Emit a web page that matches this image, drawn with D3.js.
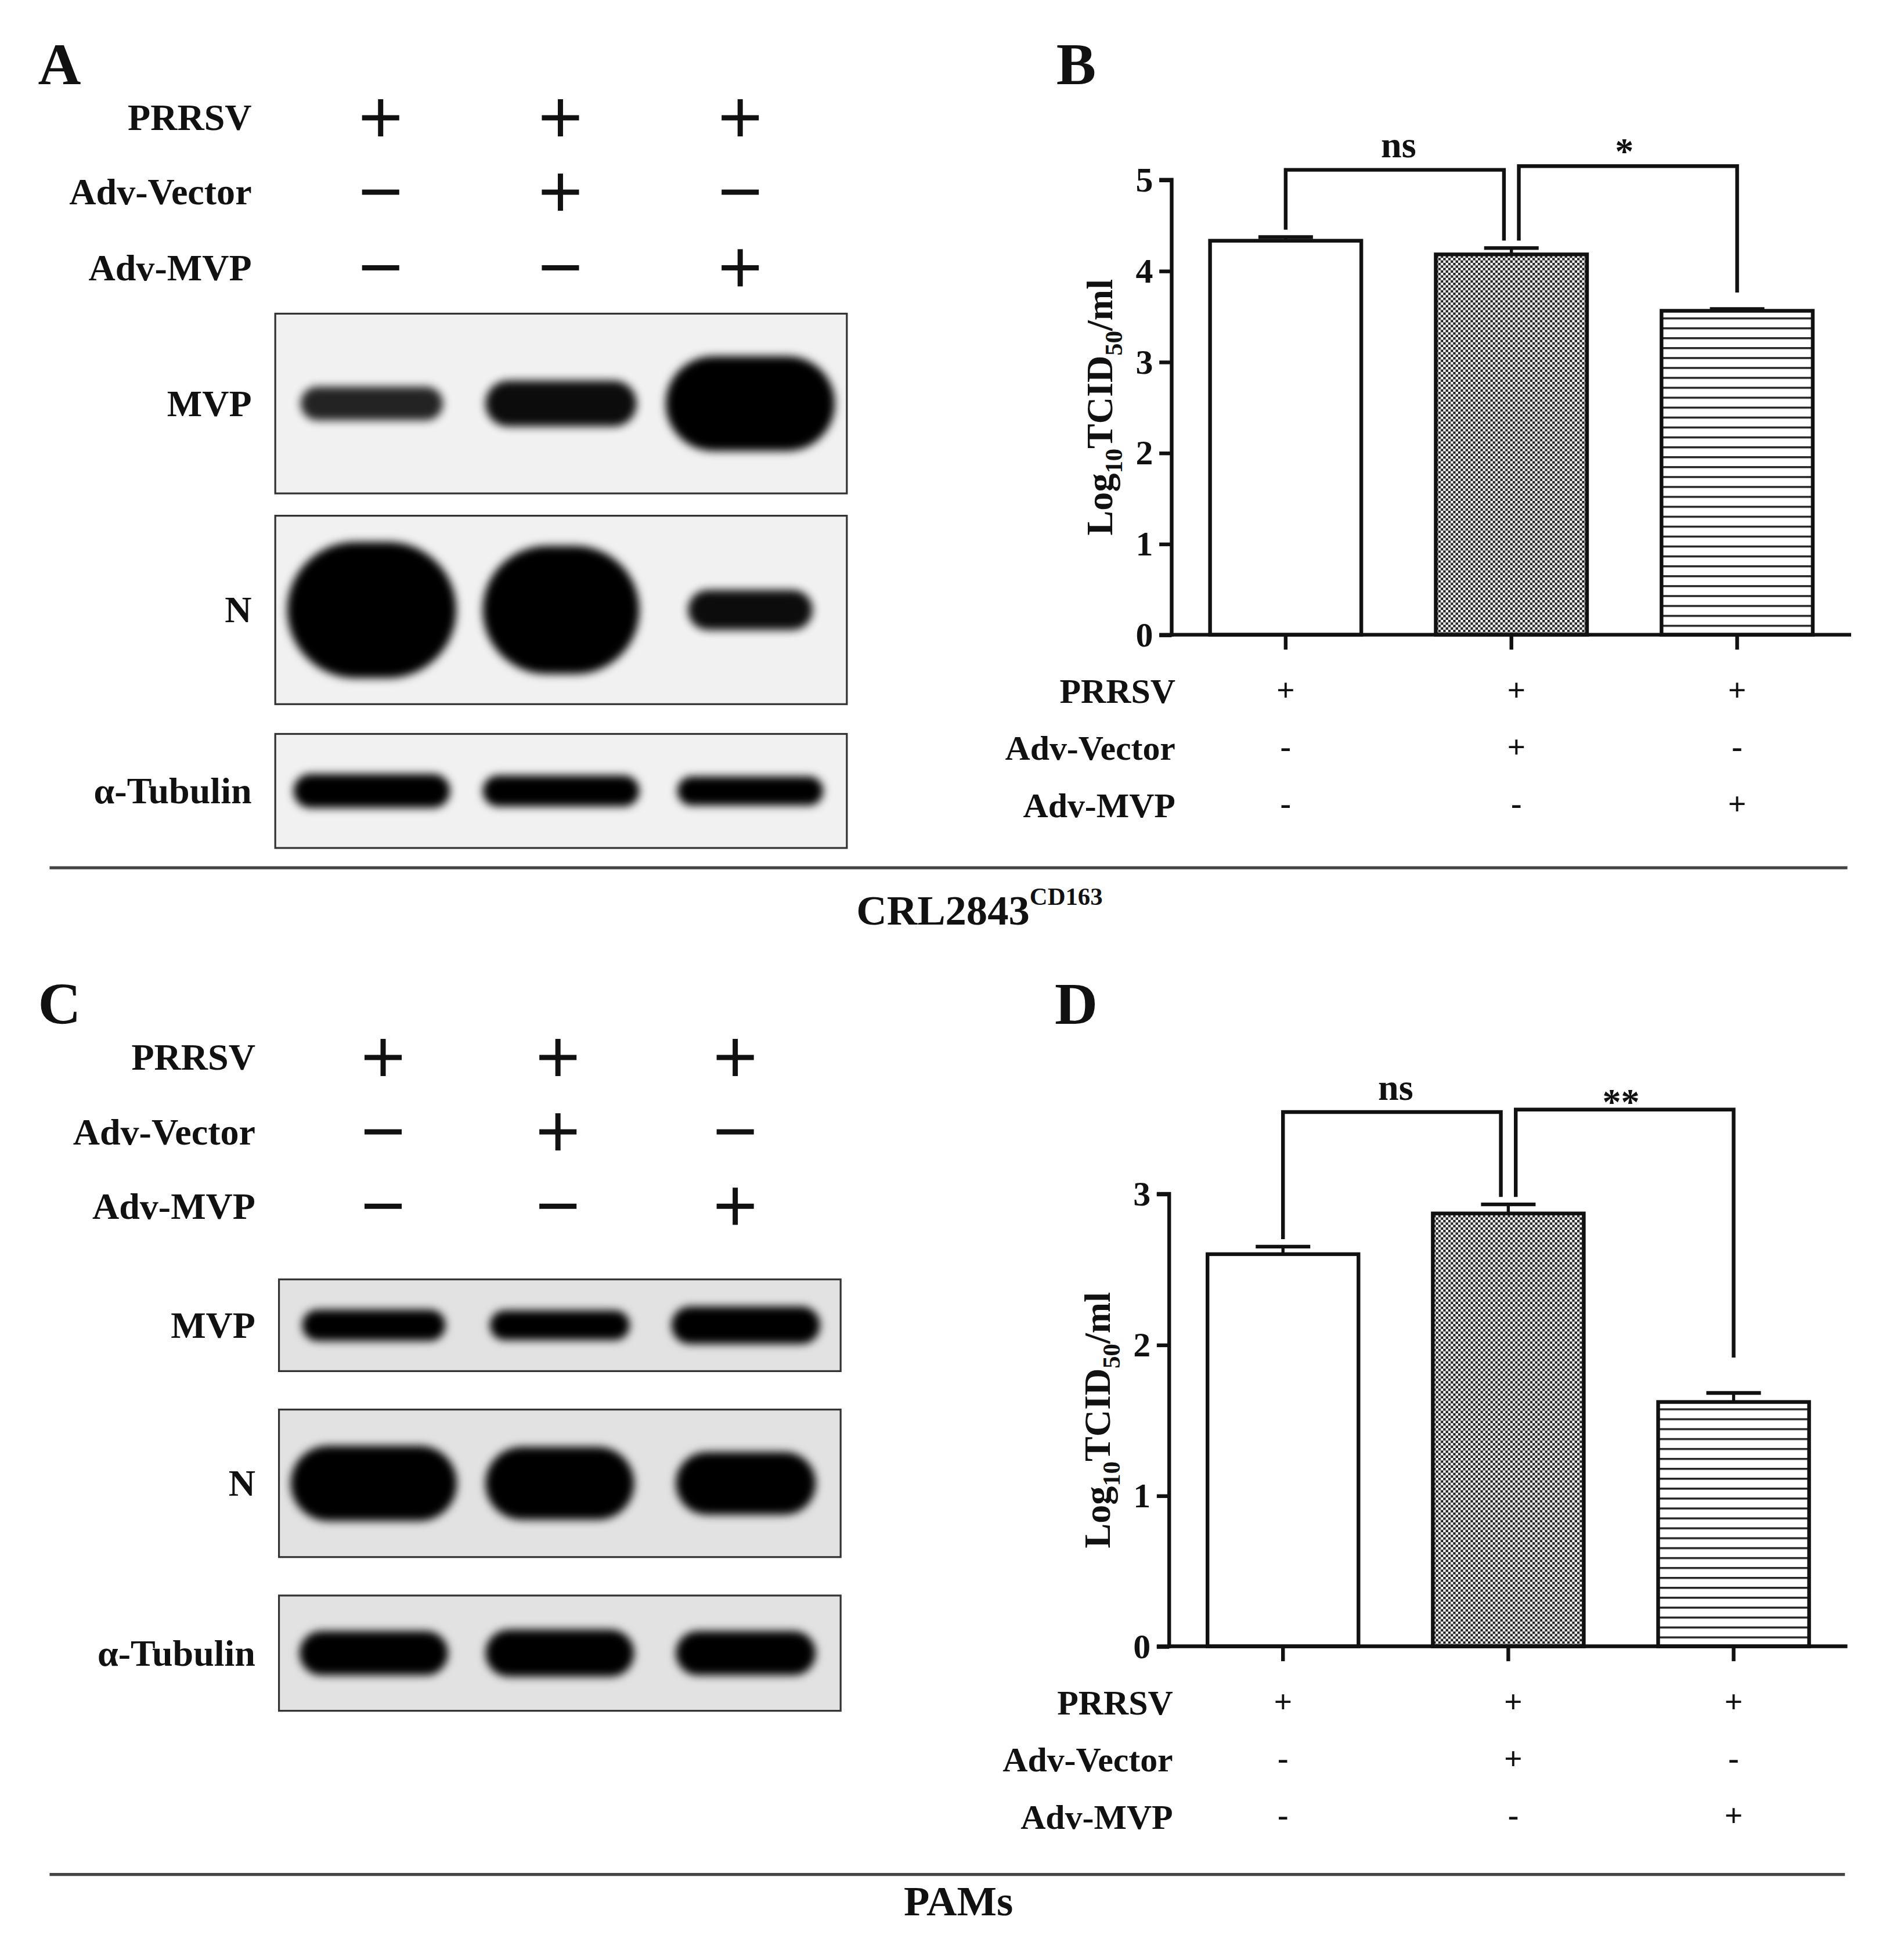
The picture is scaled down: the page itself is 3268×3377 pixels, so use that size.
<!DOCTYPE html>
<html><head><meta charset="utf-8">
<script src="https://cdn.jsdelivr.net/npm/d3@7"></script>
<style>body{margin:0;background:#fff}svg{display:block}text{font-family:"Liberation Serif","DejaVu Serif",serif;font-weight:bold;fill:#111}</style>
</head><body>
<script>
const conditions = ["PRRSV","Adv-Vector","Adv-MVP"];
const signs = [["+","+","+"],["-","+","-"],["-","-","+"]];
const groups = ["Ctrl","Adv-Vector","Adv-MVP"];
const valuesB = [4.33, 4.18, 3.56];
const errB = [0.04, 0.07, 0.02];
const valuesD = [2.60, 2.87, 1.62];
const errD = [0.05, 0.06, 0.06];
const ticksB = [0,1,2,3,4,5];
const ticksD = [0,1,2,3];
const sigB = ["ns","*"];
const sigD = ["ns","**"];
// blot band intensities (relative width, thickness, darkness) per lane
const blotA = {MVP:[[0.8,0.22,0.85],[0.85,0.3,0.95],[0.95,0.62,1]], N:[[0.95,0.85,1],[0.88,0.8,1],[0.7,0.25,0.95]], "α-Tubulin":[[0.88,0.35,1],[0.88,0.32,1],[0.82,0.3,1]]};
const blotC = {MVP:[[0.82,0.4,1],[0.8,0.38,1],[0.85,0.48,1]], N:[[0.95,0.6,1],[0.85,0.58,1],[0.8,0.5,1]], "α-Tubulin":[[0.85,0.45,1],[0.85,0.48,1],[0.8,0.45,1]]};

const W=1530,H=1581;
const svg=d3.select("body").append("svg").attr("width",3268).attr("height",3377).attr("viewBox",`0 0 ${W} ${H}`);
const defs=svg.append("defs");
defs.append("filter").attr("id","blur").attr("x","-30%").attr("y","-80%").attr("width","160%").attr("height","260%")
  .append("feGaussianBlur").attr("stdDeviation",3.5);
const chk=defs.append("pattern").attr("id","chk").attr("patternUnits","userSpaceOnUse").attr("width",4).attr("height",4);
chk.append("rect").attr("width",4).attr("height",4).attr("fill","#fff");
chk.append("rect").attr("width",2).attr("height",2).attr("fill","#222");
chk.append("rect").attr("x",2).attr("y",2).attr("width",2).attr("height",2).attr("fill","#222");
const hl=defs.append("pattern").attr("id","hl").attr("patternUnits","userSpaceOnUse").attr("width",8).attr("height",8);
hl.append("rect").attr("width",8).attr("height",8).attr("fill","#fff");
hl.append("rect").attr("y",0).attr("width",8).attr("height",1.6).attr("fill","#222");

function letter(t,x,y){svg.append("text").attr("x",x).attr("y",y).attr("font-size",48).attr("text-anchor","middle").text(t);}

function sym(g,s,x,y,size){
  const h=size/2,w=size*0.14;
  g.append("rect").attr("x",x-h).attr("y",y-w/2).attr("width",size).attr("height",w).attr("fill","#111");
  if(s==="+") g.append("rect").attr("x",x-w/2).attr("y",y-h).attr("width",w).attr("height",size).attr("fill","#111");
}

function blotPanel(L,lx,lanesX,rowsY,boxX,boxes,data,bg){
  const g=svg.append("g");
  conditions.forEach((c,i)=>{
    g.append("text").attr("x",lx).attr("y",rowsY[i]+10).attr("text-anchor","end").attr("font-size",30).text(c);
    signs[i].forEach((s,j)=>sym(g,s,lanesX[j],rowsY[i],30));
  });
  const x=d3.scaleBand().domain(groups).range(boxX).paddingInner(0.06).paddingOuter(0.04);
  Object.keys(data).forEach((k,bi)=>{
    const [y0,y1]=boxes[bi];
    g.append("rect").attr("x",boxX[0]).attr("y",y0).attr("width",boxX[1]-boxX[0]).attr("height",y1-y0).attr("fill",bg).attr("stroke","#333").attr("stroke-width",1.5);
    g.append("text").attr("x",lx).attr("y",(y0+y1)/2+10).attr("text-anchor","end").attr("font-size",30).text(k);
    const cy=(y0+y1)/2, bh=(y1-y0)*0.85;
    data[k].forEach((b,j)=>{
      const cx=x(groups[j])+x.bandwidth()/2, w=x.bandwidth()*b[0], h=bh*b[1];
      g.append("rect").attr("x",cx-w/2).attr("y",cy-h/2).attr("width",w).attr("height",h).attr("rx",Math.min(w/2,h/2)).attr("ry",h/2)
        .attr("fill","#000").attr("opacity",b[2]).attr("filter","url(#blur)");
    });
  });
}

letter("A",48,68);
blotPanel("A",203,[307,452,597],[95,155,216],[222,683],[[253,398],[416,568],[592,684]],blotA,"#f1f1f1");
letter("C",48,826);
blotPanel("C",206,[309,450,593],[853,913,973],[225,678],[[1032,1106],[1137,1256],[1287,1380]],blotC,"#e2e2e2");

function barPanel(vals,errs,ticks,sig,o){
  const g=svg.append("g");
  const y=d3.scaleLinear().domain([0,ticks[ticks.length-1]]).range([o.y0,o.yTop]);
  const x=d3.scaleBand().domain(groups).range([o.ax,o.ax2]).paddingInner(0.33).paddingOuter(0.17);
  const fills=["#fff","url(#chk)","url(#hl)"];
  vals.forEach((v,i)=>{
    const cx=x(groups[i])+x.bandwidth()/2;
    g.append("line").attr("x1",cx).attr("x2",cx).attr("y1",y(v)).attr("y2",y(v+errs[i])).attr("stroke","#111").attr("stroke-width",2.5);
    g.append("line").attr("x1",cx-22).attr("x2",cx+22).attr("y1",y(v+errs[i])).attr("y2",y(v+errs[i])).attr("stroke","#111").attr("stroke-width",3);
    g.append("rect").attr("x",x(groups[i])).attr("y",y(v)).attr("width",x.bandwidth()).attr("height",y(0)-y(v)).attr("fill",fills[i]).attr("stroke","#111").attr("stroke-width",3);
  });
  const ya=g.append("g").attr("transform",`translate(${o.ax},0)`).call(d3.axisLeft(y).tickValues(ticks).tickSize(10).tickFormat(d3.format("d")));
  const xa=g.append("g").attr("transform",`translate(0,${o.y0})`).call(d3.axisBottom(x).tickSize(12).tickFormat(""));
  [ya,xa].forEach(a=>{a.select(".domain").attr("stroke","#111").attr("stroke-width",3);a.selectAll(".tick line").attr("stroke","#111").attr("stroke-width",3);});
  xa.select(".domain").attr("d",`M${o.ax},0H${o.ax2}`);
  ya.select(".domain").attr("d",`M-10,${o.y0}H0V${o.yTop}H-10`);
  ya.selectAll(".tick text").attr("font-size",28).attr("font-family","Liberation Serif").attr("font-weight","bold").attr("fill","#111").attr("dx",-2);
  const lab=g.append("text").attr("transform",`translate(${o.ax-48},${(o.y0+o.yTop)/2}) rotate(-90)`).attr("text-anchor","middle").attr("font-size",30);
  lab.append("tspan").text("Log");lab.append("tspan").attr("font-size",20).attr("dy",8).text("10");
  lab.append("tspan").attr("dy",-8).text("TCID");lab.append("tspan").attr("font-size",20).attr("dy",8).text("50");
  lab.append("tspan").attr("dy",-8).text("/ml");
  const c=i=>x(groups[i])+x.bandwidth()/2;
  const b1=o.br1, b2=o.br2;
  g.append("path").attr("d",`M${c(0)},${y(vals[0]+errs[0])-6}V${b1}H${c(1)-6}V${y(vals[1]+errs[1])-6}`).attr("fill","none").attr("stroke","#111").attr("stroke-width",3);
  g.append("path").attr("d",`M${c(1)+6},${y(vals[1]+errs[1])-6}V${b2}H${c(2)}V${o.br2end}`).attr("fill","none").attr("stroke","#111").attr("stroke-width",3);
  g.append("text").attr("x",(c(0)+c(1))/2).attr("y",b1-10).attr("text-anchor","middle").attr("font-size",30).text(sig[0]);
  g.append("text").attr("x",(c(1)+c(2))/2).attr("y",b2+(sig[1]==="*"?-2:4)).attr("text-anchor","middle").attr("font-size",30).text(sig[1]);
  conditions.forEach((cn,i)=>{
    g.append("text").attr("x",o.ax+3).attr("y",o.rows[i]+10).attr("text-anchor","end").attr("font-size",28).text(cn);
    signs[i].forEach((s,j)=>g.append("text").attr("x",c(j)+(j==1?4:0)).attr("y",o.rows[i]+8).attr("text-anchor","middle").attr("font-size",26).attr("font-weight","normal").text(s));
  });
}
letter("B",868,68);
barPanel(valuesB,errB,ticksB,sigB,{ax:945,ax2:1493,y0:512,yTop:145,br1:137,br2:134,br2end:236,rows:[557,603,649]});
letter("D",868,826);
barPanel(valuesD,errD,ticksD,sigD,{ax:943,ax2:1490,y0:1328,yTop:963,br1:897,br2:895,br2end:1095,rows:[1373,1419,1465]});

svg.append("line").attr("x1",40).attr("x2",1490).attr("y1",700).attr("y2",700).attr("stroke","#444").attr("stroke-width",2.5);
const t1=svg.append("text").attr("x",790).attr("y",746).attr("text-anchor","middle").attr("font-size",34);
t1.append("tspan").text("CRL2843");t1.append("tspan").attr("font-size",20).attr("dy",-16).text("CD163");
svg.append("line").attr("x1",40).attr("x2",1488).attr("y1",1512).attr("y2",1512).attr("stroke","#444").attr("stroke-width",2.5);
svg.append("text").attr("x",773).attr("y",1545).attr("text-anchor","middle").attr("font-size",34).text("PAMs");
</script></body></html>
